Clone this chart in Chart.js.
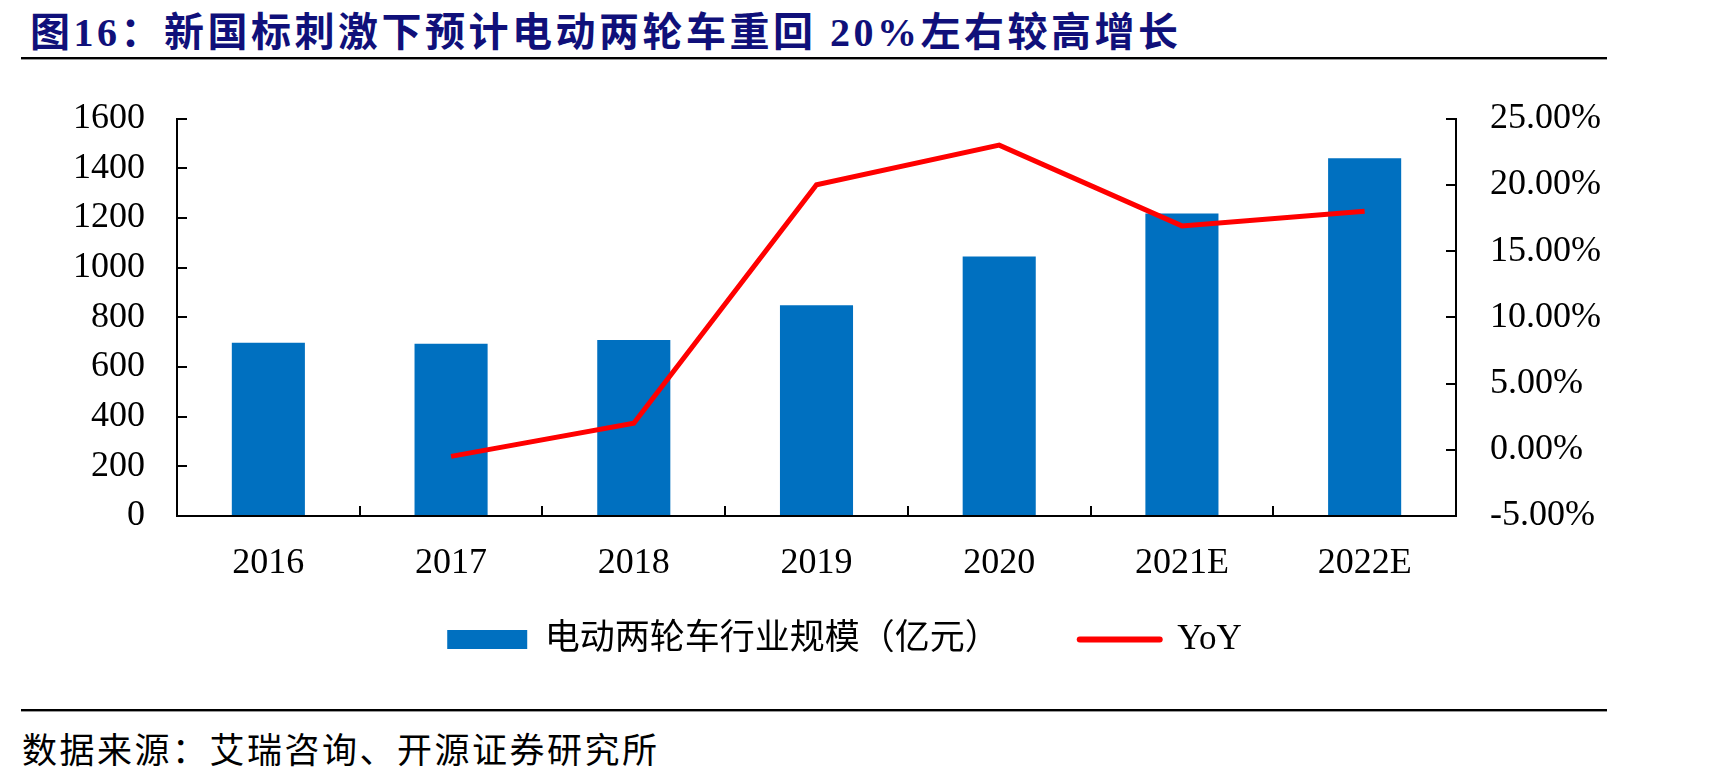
<!DOCTYPE html>
<html>
<head>
<meta charset="utf-8">
<script src="https://cdn.jsdelivr.net/npm/chart.js@4.4.1/dist/chart.umd.min.js"></script>
<style>
  html, body { margin: 0; padding: 0; background: #fff; }
  body { width: 1735px; height: 779px; position: relative; overflow: hidden; }
  #title {
    position: absolute; left: 30px; top: 0; line-height: 52px;
    font: bold 40px 'Liberation Serif', 'Noto Sans CJK SC';
    color: #10107a; letter-spacing: 3.5px; white-space: nowrap;
  }
  .rule { position: absolute; left: 21px; width: 1586px; height: 2px; background: #000; box-shadow: 0 1px 0 #999; }
  #source {
    position: absolute; left: 22px; top: 722px; line-height: 46px;
    font: 35px 'Noto Sans CJK SC'; color: #000; letter-spacing: 2.5px; white-space: nowrap;
  }
  #wrap { position: absolute; left: 0; top: 63px; width: 1735px; height: 658px; }
</style>
</head>
<body>
<div id="title">图16：新国标刺激下预计电动两轮车重回 20%左右较高增长</div>
<div class="rule" style="top:57px"></div>
<div id="wrap"><canvas id="chart"></canvas></div>
<div class="rule" style="top:709px"></div>
<div id="source">数据来源：艾瑞咨询、开源证券研究所</div>
<script>
const categories = ['2016', '2017', '2018', '2019', '2020', '2021E', '2022E'];
const marketSize = [698, 694, 709, 849, 1045, 1218, 1440];   // 亿元
const yoy = [null, -0.5, 2.0, 20.0, 23.0, 16.9, 18.0];       // %

const serif = "'Liberation Serif', 'Noto Sans CJK SC'";
Chart.defaults.color = '#000';
Chart.defaults.font.family = serif;

// Excel style tick marks pointing into the plot, axis line redrawn over the bars
const innerTicks = {
  id: 'innerTicks',
  afterLayout(chart) {
    // pull the legend up, its wide item padding would otherwise push it down
    const lg = chart.legend;
    if (lg) { lg.top -= 54; lg.bottom -= 54; }
  },
  afterDraw(chart) {
    const { ctx, chartArea: a, scales } = chart;
    ctx.save();
    ctx.strokeStyle = '#000';
    ctx.lineWidth = 2;
    ctx.beginPath();
    scales.y.ticks.forEach((t, i) => {
      const py = Math.round(scales.y.getPixelForTick(i));
      ctx.moveTo(a.left, py);
      ctx.lineTo(a.left + 10, py);
    });
    scales.y1.ticks.forEach((t, i) => {
      const py = Math.round(scales.y1.getPixelForTick(i));
      ctx.moveTo(a.right, py);
      ctx.lineTo(a.right - 10, py);
    });
    for (let i = 0; i < categories.length - 1; i++) {
      const px = Math.round((scales.x.getPixelForValue(i) + scales.x.getPixelForValue(i + 1)) / 2);
      ctx.moveTo(px, a.bottom);
      ctx.lineTo(px, a.bottom - 10);
    }
    ctx.moveTo(a.left - 1, a.bottom);
    ctx.lineTo(a.right + 1, a.bottom);
    ctx.stroke();
    ctx.restore();
  }
};

new Chart(document.getElementById('chart'), {
  data: {
    labels: categories,
    datasets: [
      {
        type: 'bar',
        label: '电动两轮车行业规模（亿元）',
        data: marketSize,
        backgroundColor: '#0070c0',
        barPercentage: 0.4,
        categoryPercentage: 1,
        yAxisID: 'y',
        order: 1
      },
      {
        type: 'line',
        label: 'YoY',
        data: yoy,
        borderColor: '#ff0000',
        borderWidth: 5,
        pointRadius: 0,
        tension: 0,
        yAxisID: 'y1',
        order: 0
      }
    ]
  },
  options: {
    responsive: true,
    maintainAspectRatio: false,
    animation: false,
    layout: { padding: { left: 20, right: 66, top: 0, bottom: 0 } },
    plugins: {
      tooltip: { enabled: false },
      legend: {
        position: 'bottom',
        labels: {
          font: { size: 35, family: serif },
          color: '#000',
          usePointStyle: true,
          pointStyleWidth: 80,
          boxHeight: 19,
          padding: 80,
          generateLabels: chart => chart.data.datasets.map((ds, i) => ({
            text: ds.label,
            datasetIndex: i,
            hidden: false,
            fontColor: '#000',
            fillStyle: ds.type === 'line' ? 'rgba(0,0,0,0)' : ds.backgroundColor,
            strokeStyle: ds.type === 'line' ? ds.borderColor : ds.backgroundColor,
            lineWidth: ds.type === 'line' ? 6 : 0,
            lineCap: 'round',
            pointStyle: ds.type === 'line' ? 'line' : 'rect'
          }))
        }
      }
    },
    scales: {
      x: {
        grid: { display: false, drawTicks: false },
        border: { color: '#000', width: 2 },
        ticks: { font: { size: 36 }, padding: 26, maxRotation: 0 },
        afterFit(s) { s.height = 80; }
      },
      y: {
        position: 'left',
        min: 0, max: 1600,
        grid: { display: false, drawTicks: false },
        border: { color: '#000', width: 2 },
        ticks: { stepSize: 200, font: { size: 36 }, padding: 32, callback: v => String(v) },
        afterFit(s) { s.width = 157; }
      },
      y1: {
        position: 'right',
        min: -5, max: 25,
        grid: { display: false, drawTicks: false },
        border: { color: '#000', width: 2 },
        ticks: {
          stepSize: 5, font: { size: 36 }, padding: 34,
          callback: v => v.toFixed(2) + '%'
        },
        afterFit(s) { s.width = 213; }
      }
    }
  },
  plugins: [innerTicks]
});
</script>
</body>
</html>
